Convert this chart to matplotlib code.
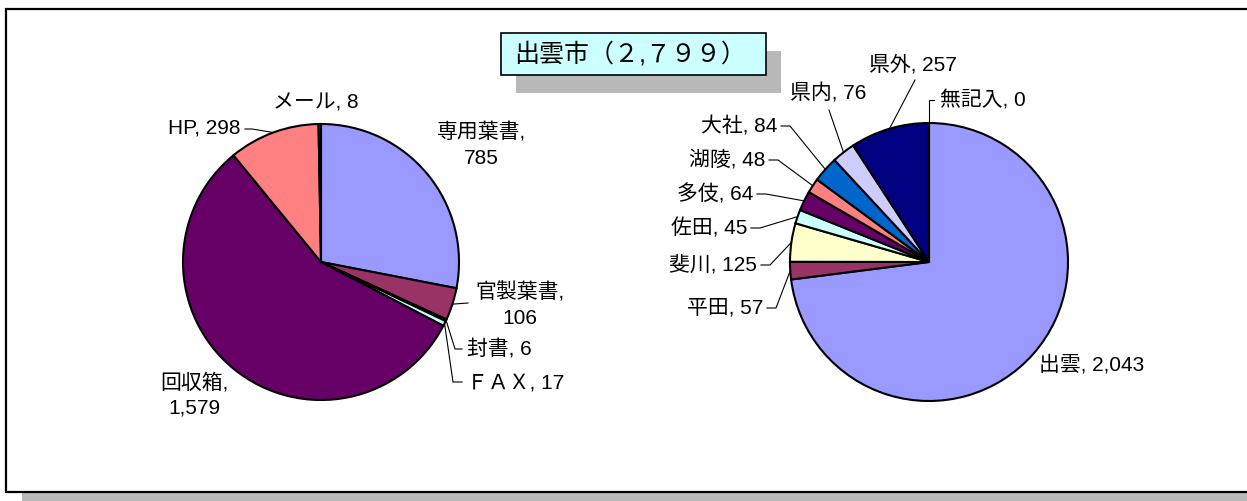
import numpy as np
import matplotlib.pyplot as plt
from matplotlib.patches import Rectangle

plt.rcParams['font.family'] = ['Liberation Sans', 'Noto Sans CJK JP', 'DejaVu Sans']

# data
title = '出雲市（２,７９９）'

left_labels = ['専用葉書', '官製葉書', '封書', 'ＦＡＸ', '回収箱', 'HP', 'メール']
left_values = [785, 106, 6, 17, 1579, 298, 8]

right_labels = ['出雲', '平田', '斐川', '佐田', '多伎', '湖陵', '大社', '県内', '県外', '無記入']
right_values = [2043, 57, 125, 45, 64, 48, 84, 76, 257, 0]

colors = ['#9999FF', '#993366', '#FFFFCC', '#CCFFFF', '#660066', '#FF8080',
          '#0066CC', '#CCCCFF', '#000080', '#FF00FF']

W, H = 1247, 501
fig = plt.figure(figsize=(W / 100, H / 100), dpi=100)
ax = fig.add_axes([0, 0, 1, 1])
ax.set_xlim(0, W)
ax.set_ylim(0, H)
ax.set_aspect('equal')
ax.axis('off')


def Y(y):
    return H - y


FS = 15
shadow = '#b8b8b8'

# outer frame with shadow
ax.add_patch(Rectangle((22, Y(501)), W, 8, fc=shadow, ec='none'))
ax.add_patch(Rectangle((6, Y(492)), W + 10, 483, fc='white', ec='black', lw=1.6))

# title box
ax.add_patch(Rectangle((516, Y(93)), 265, 42, fc=shadow, ec='none'))
ax.add_patch(Rectangle((501, Y(75)), 265, 42, fc='#CCFFFF', ec='black', lw=1.2))
ax.text(630, Y(54), title, fontsize=18, ha='center', va='center')


def draw_pie(values, center, r):
    wedges, _ = ax.pie(values, colors=colors[:len(values)], startangle=90,
                       counterclock=False, center=(center[0], Y(center[1])),
                       radius=r, wedgeprops=dict(edgecolor='black', linewidth=1.5),
                       frame=True)
    anchors = []
    for w in wedges:
        a = np.deg2rad((w.theta1 + w.theta2) / 2)
        anchors.append((w.center[0] + r * np.cos(a), w.center[1] + r * np.sin(a)))
    return anchors


def leader(pts, anchor):
    xs = [p[0] for p in pts] + [anchor[0]]
    ys = [Y(p[1]) for p in pts] + [anchor[1]]
    ax.plot(xs, ys, color='black', lw=0.8)


def label(x, y, s, ha='center'):
    ax.text(x, Y(y), s, fontsize=FS, ha=ha, va='center', linespacing=1.4)


# left pie
la = draw_pie(left_values, (321, 262), 138)
label(481, 145, f'{left_labels[0]},\n{left_values[0]}')
label(520, 305, f'{left_labels[1]},\n{left_values[1]}')
leader([(468, 303)], la[1])
label(467, 349, f'{left_labels[2]}, {left_values[2]}', 'left')
leader([(462, 349), (455, 349)], la[2])
label(467, 383, f'{left_labels[3]}, {left_values[3]}', 'left')
leader([(462, 382), (453, 382)], la[3])
label(194, 395, f'{left_labels[4]},\n{left_values[4]:,}')
label(240, 128, f'{left_labels[5]}, {left_values[5]}', 'right')
leader([(245, 129), (252, 129)], la[5])
label(316, 103, f'{left_labels[6]}, {left_values[6]}')

# right pie
ra = draw_pie(right_values, (929, 262), 139)
label(1039, 365, f'{right_labels[0]}, {right_values[0]:,}', 'left')
right_side = [  # label index, text right edge, text y
    (1, 763, 308), (2, 757, 265), (3, 747, 228), (4, 753, 194),
    (5, 765, 160), (6, 777, 126),
]
for i, xr, yy in right_side:
    label(xr, yy, f'{right_labels[i]}, {right_values[i]}', 'right')
    leader([(xr + 4, yy), (xr + 13, yy)], ra[i])
label(828, 93, f'{right_labels[7]}, {right_values[7]}')
leader([(829, 110)], ra[7])
label(913, 65, f'{right_labels[8]}, {right_values[8]}')
leader([(915, 80)], ra[8])
label(940, 100, f'{right_labels[9]}, {right_values[9]}', 'left')
leader([(934, 100), (929, 100)], ra[9])

ax.set_xlim(0, W)
ax.set_ylim(0, H)
ax.axis('off')
fig.savefig('out.png', dpi=100)
